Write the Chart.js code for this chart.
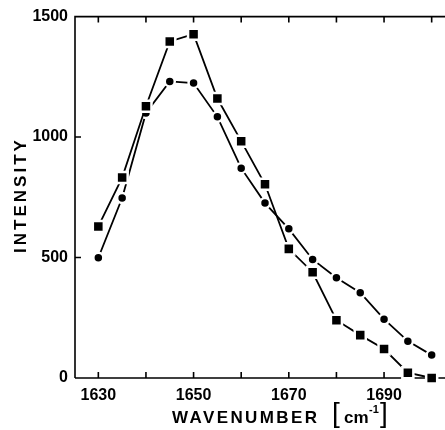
<!DOCTYPE html>
<html>
<head>
<meta charset="utf-8">
<script src="https://cdn.jsdelivr.net/npm/chart.js@4/dist/chart.umd.min.js"></script>
<style>
    html, body { margin: 0; padding: 0; background: #fff; }
</style>
</head>
<body>
<canvas id="chart" width="445" height="430"></canvas>
<script>
// Data
const wavenumbers = [1630, 1635, 1640, 1645, 1650, 1655, 1660, 1665, 1670, 1675, 1680, 1685, 1690, 1695, 1700];
const squareSeries = [629, 832, 1128, 1397, 1427, 1160, 983, 804, 536, 439, 240, 178, 120, 22, 0];
const circleSeries = [499, 747, 1100, 1231, 1224, 1084, 871, 726, 619, 492, 416, 354, 244, 153, 95];
const xTickLabels = [1630, 1650, 1670, 1690];
const xTickMarks = [1630, 1640, 1650, 1660, 1670, 1680, 1690, 1700];
const yTickLabels = [0, 500, 1000, 1500];

const FONT = '"Liberation Sans", Arial, sans-serif';

function toPoints(values) {
    return wavenumbers.map((w, i) => ({ x: w, y: values[i] }));
}

// frame, inward ticks and axis titles
const framePlugin = {
    id: 'frame',
    beforeDatasetsDraw(chart) {
        const { ctx, chartArea: a, scales: { x, y } } = chart;
        ctx.save();
        ctx.strokeStyle = '#000';
        ctx.lineWidth = 1.6;
        ctx.beginPath();
        ctx.moveTo(a.left, a.bottom);
        ctx.lineTo(a.left, a.top);
        ctx.lineTo(a.right, a.top);
        ctx.moveTo(a.left, a.bottom);
        ctx.lineTo(a.right, a.bottom);
        xTickMarks.forEach(v => {
            const px = x.getPixelForValue(v);
            ctx.moveTo(px, a.bottom);
            ctx.lineTo(px, a.bottom - 6);
            ctx.moveTo(px, a.top);
            ctx.lineTo(px, a.top + 6);
        });
        yTickLabels.forEach(v => {
            const py = y.getPixelForValue(v);
            ctx.moveTo(a.left, py);
            ctx.lineTo(a.left + 6, py);
        });
        ctx.stroke();
        ctx.restore();
    },
    afterDraw(chart) {
        const { ctx } = chart;
        ctx.save();
        ctx.fillStyle = '#000';

        // y title
        ctx.font = `bold 17px ${FONT}`;
        ctx.letterSpacing = '3px';
        ctx.save();
        ctx.translate(21, 195);
        ctx.rotate(-Math.PI / 2);
        ctx.textAlign = 'center';
        ctx.textBaseline = 'middle';
        ctx.fillText('INTENSITY', 0, 0);
        ctx.restore();

        // x title
        ctx.letterSpacing = '2.4px';
        ctx.textAlign = 'left';
        ctx.textBaseline = 'alphabetic';
        ctx.fillText('WAVENUMBER', 172, 423);
        ctx.letterSpacing = '0px';
        ctx.font = `28px ${FONT}`;
        ctx.fillText('[', 332, 422);
        ctx.fillText(']', 380, 422);
        ctx.font = `bold 17px ${FONT}`;
        ctx.fillText('cm', 344, 423);
        ctx.font = `bold 11px ${FONT}`;
        ctx.fillText('-1', 369, 413);
        ctx.restore();
    }
};

const tickFont = { family: FONT, size: 16, weight: 'bold' };

new Chart(document.getElementById('chart'), {
    type: 'line',
    data: {
        datasets: [
            {
                label: 'squares',
                data: toPoints(squareSeries),
                borderColor: '#000',
                borderWidth: 1.8,
                backgroundColor: '#000',
                pointStyle: 'rect',
                pointRadius: 7.8,
                pointBorderWidth: 2.5,
                pointBorderColor: '#fff',
                pointBackgroundColor: '#000',
                tension: 0,
                clip: false
            },
            {
                label: 'circles',
                data: toPoints(circleSeries),
                borderColor: '#000',
                borderWidth: 1.8,
                backgroundColor: '#000',
                pointStyle: 'circle',
                pointRadius: 5,
                pointBorderWidth: 2.5,
                pointBorderColor: '#fff',
                pointBackgroundColor: '#000',
                tension: 0,
                clip: false
            }
        ]
    },
    options: {
        responsive: false,
        animation: false,
        layout: { autoPadding: false, padding: { top: 15, left: 0, right: 0, bottom: 0 } },
        plugins: {
            legend: { display: false },
            tooltip: { enabled: false }
        },
        scales: {
            x: {
                type: 'linear',
                min: 1625.1,
                max: 1702.8,
                grid: { display: false, drawTicks: false },
                border: { display: false },
                afterBuildTicks: scale => { scale.ticks = xTickLabels.map(v => ({ value: v })); },
                afterFit: scale => { scale.height = 52; },
                ticks: {
                    color: '#000',
                    font: tickFont,
                    padding: 8,
                    maxRotation: 0,
                    callback: v => String(v)
                }
            },
            y: {
                min: 0,
                max: 1500,
                grid: { display: false, drawTicks: false },
                border: { display: false },
                afterBuildTicks: scale => { scale.ticks = yTickLabels.map(v => ({ value: v })); },
                afterFit: scale => { scale.width = 75; },
                ticks: {
                    color: '#000',
                    font: tickFont,
                    padding: 7,
                    callback: v => String(v)
                }
            }
        }
    },
    plugins: [framePlugin]
});
</script>
</body>
</html>
